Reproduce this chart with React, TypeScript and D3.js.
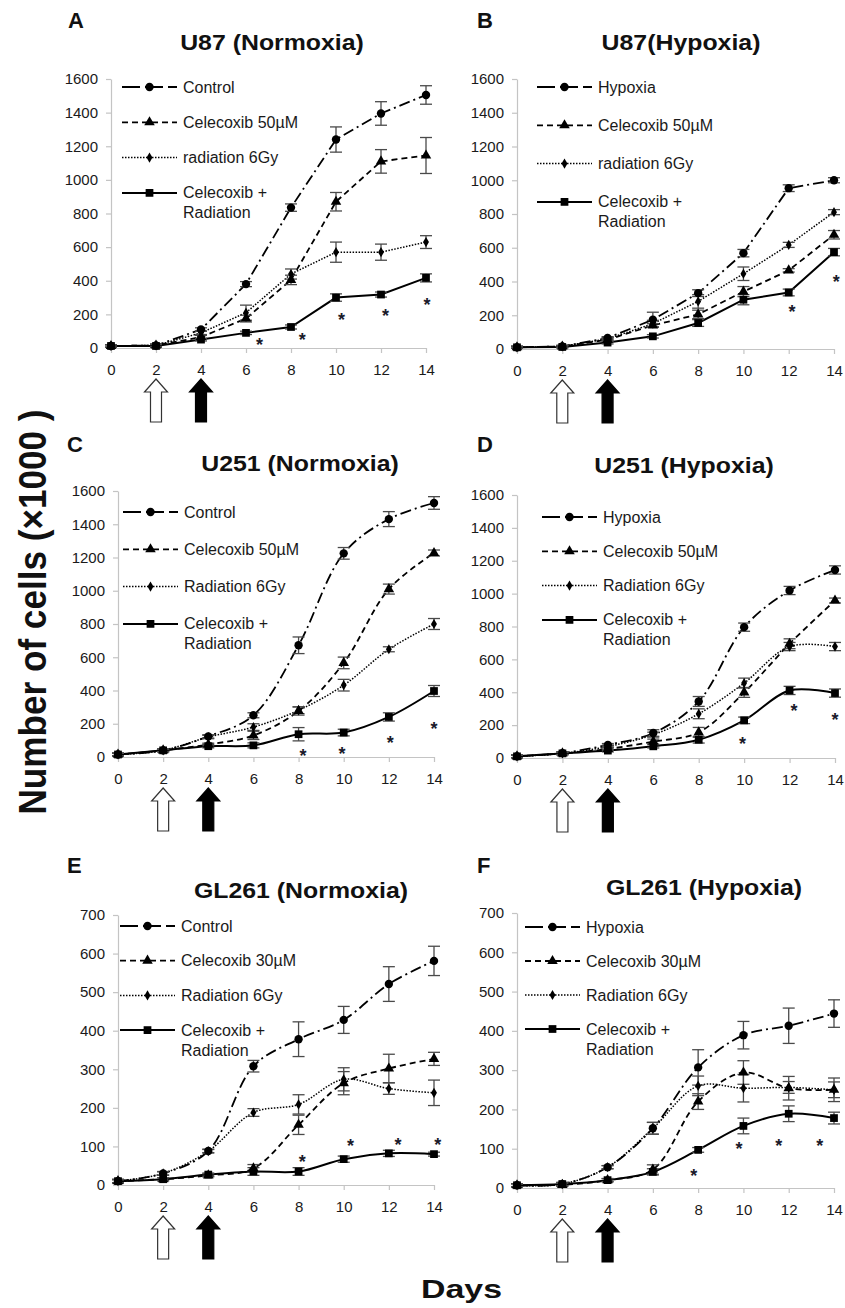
import * as d3 from 'd3';
import { useRef, useEffect } from 'react';

const FONT = '"Liberation Sans", Arial, sans-serif';

const days = [0, 2, 4, 6, 8, 10, 12, 14];

// A: U87 normoxia
const u87NControl = [12, 15, 110, 380, 835, 1240, 1395, 1505];
const u87NControlErr = [8, 8, 10, 15, 22, 75, 70, 55];
const u87NCele = [12, 15, 65, 175, 405, 870, 1110, 1145];
const u87NCeleErr = [8, 8, 10, 20, 28, 55, 70, 107];
const u87NRad = [12, 15, 90, 210, 440, 570, 570, 630];
const u87NRadErr = [8, 8, 10, 45, 30, 60, 48, 38];
const u87NCombo = [12, 12, 50, 90, 125, 300, 318, 417];
const u87NComboErr = [8, 8, 8, 10, 12, 22, 15, 24];
const u87NStars = [[6.6, 40], [8.5, 73], [10.25, 192], [12.2, 216], [14.05, 280]];

// B: U87 hypoxia
const u87HHyp = [10, 15, 65, 174, 331, 568, 953, 1000];
const u87HHypErr = [6, 6, 8, 44, 20, 22, 20, 15];
const u87HCele = [10, 15, 55, 140, 205, 340, 466, 677];
const u87HCeleErr = [6, 6, 8, 10, 25, 30, 10, 25];
const u87HRad = [10, 15, 60, 150, 282, 446, 617, 811];
const u87HRadErr = [6, 6, 8, 20, 40, 40, 15, 15];
const u87HCombo = [10, 12, 38, 75, 154, 292, 335, 574];
const u87HComboErr = [6, 6, 8, 10, 20, 30, 20, 22];
const u87HStars = [[12.15, 243], [14.1, 420]];

// C: U251 normoxia
const u251NControl = [15, 40, 124, 251, 672, 1225, 1431, 1528];
const u251NControlErr = [8, 8, 10, 15, 50, 35, 45, 38];
const u251NCele = [15, 40, 75, 130, 277, 566, 1010, 1227];
const u251NCeleErr = [8, 8, 8, 25, 25, 35, 30, 18];
const u251NRad = [15, 40, 120, 180, 281, 432, 648, 800];
const u251NRadErr = [8, 8, 10, 20, 20, 35, 15, 33];
const u251NCombo = [15, 40, 65, 70, 137, 147, 241, 397];
const u251NComboErr = [8, 8, 10, 15, 40, 20, 25, 33];
const u251NStars = [[8.2, 30], [9.92, 44], [12.06, 108], [14, 192]];

// D: U251 hypoxia
const u251HHyp = [10, 30, 80, 152, 344, 796, 1019, 1144];
const u251HHypErr = [8, 8, 8, 20, 30, 25, 25, 25];
const u251HCele = [10, 28, 55, 100, 156, 399, 695, 958];
const u251HCeleErr = [8, 8, 8, 15, 30, 30, 30, 15];
const u251HRad = [10, 28, 70, 142, 269, 456, 678, 678];
const u251HRadErr = [8, 8, 8, 15, 30, 30, 25, 25];
const u251HCombo = [10, 28, 45, 71, 111, 229, 411, 395];
const u251HComboErr = [8, 8, 8, 10, 20, 20, 25, 25];
const u251HStars = [[9.93, 107], [12.2, 310], [14.0, 257]];

// E: GL261 normoxia
const gl261NControl = [10, 30, 88, 308, 378, 428, 521, 581];
const gl261NControlErr = [5, 5, 5, 15, 45, 35, 45, 38];
const gl261NCele = [10, 15, 25, 43, 156, 264, 302, 327];
const gl261NCeleErr = [4, 4, 4, 10, 25, 30, 37, 17];
const gl261NRad = [10, 30, 88, 188, 209, 274, 250, 239];
const gl261NRadErr = [4, 4, 4, 10, 25, 30, 15, 33];
const gl261NCombo = [10, 15, 27, 35, 35, 67, 82, 80];
const gl261NComboErr = [4, 4, 4, 10, 10, 8, 8, 5];
const gl261NStars = [[8.16, 69], [10.3, 112], [12.4, 114], [14.17, 114]];

// F: GL261 hypoxia
const gl261HHyp = [7, 10, 53, 152, 307, 389, 413, 444];
const gl261HHypErr = [4, 4, 4, 15, 45, 35, 45, 35];
const gl261HCele = [7, 8, 20, 47, 220, 294, 254, 250];
const gl261HCeleErr = [4, 4, 4, 12, 20, 30, 30, 30];
const gl261HRad = [7, 10, 53, 152, 260, 254, 256, 250];
const gl261HRadErr = [4, 4, 4, 15, 25, 35, 15, 20];
const gl261HCombo = [7, 10, 20, 41, 97, 158, 189, 178];
const gl261HComboErr = [4, 4, 4, 8, 6, 20, 20, 15];
const gl261HStars = [[7.81, 41], [9.8, 110], [11.56, 118], [13.37, 118]];

const lineStyles = {
  control: { dash: '11,4,2,4', width: 1.8, symbol: d3.symbolCircle, size: 55 },
  cele: { dash: '6,4', width: 1.8, symbol: d3.symbolTriangle, size: 48 },
  rad: { dash: '1.5,1.5', width: 1.5, symbol: d3.symbolDiamond, size: 30 },
  combo: { dash: null, width: 2, symbol: d3.symbolSquare, size: 60 },
};

const mk = (kind, label, values, err) => ({ kind, label, values, err });

const panels = [
  {
    letter: 'A', title: 'U87 (Normoxia)', titleX: 272, titleY: 50, letterX: 68, letterY: 28,
    left: 111, right: 426, top: 79, bottom: 348, yMax: 1600, yStep: 200, smooth: false,
    legendX: 122, legendY: 87, legendGap: 35.3, stars: u87NStars,
    series: [
      mk('control', ['Control'], u87NControl, u87NControlErr),
      mk('cele', ['Celecoxib 50µM'], u87NCele, u87NCeleErr),
      mk('rad', ['radiation 6Gy'], u87NRad, u87NRadErr),
      mk('combo', ['Celecoxib +', 'Radiation'], u87NCombo, u87NComboErr),
    ],
  },
  {
    letter: 'B', title: 'U87(Hypoxia)', titleX: 681, titleY: 50, letterX: 477, letterY: 28,
    left: 517, right: 834, top: 79, bottom: 349, yMax: 1600, yStep: 200, smooth: false,
    legendX: 537, legendY: 87, legendGap: 38.3, stars: u87HStars,
    series: [
      mk('control', ['Hypoxia'], u87HHyp, u87HHypErr),
      mk('cele', ['Celecoxib 50µM'], u87HCele, u87HCeleErr),
      mk('rad', ['radiation 6Gy'], u87HRad, u87HRadErr),
      mk('combo', ['Celecoxib +', 'Radiation'], u87HCombo, u87HComboErr),
    ],
  },
  {
    letter: 'C', title: 'U251 (Normoxia)', titleX: 300, titleY: 471, letterX: 67, letterY: 452,
    left: 118, right: 434, top: 491, bottom: 757, yMax: 1600, yStep: 200, smooth: true,
    legendX: 123, legendY: 512, legendGap: 37.3, stars: u251NStars,
    series: [
      mk('control', ['Control'], u251NControl, u251NControlErr),
      mk('cele', ['Celecoxib 50µM'], u251NCele, u251NCeleErr),
      mk('rad', ['Radiation 6Gy'], u251NRad, u251NRadErr),
      mk('combo', ['Celecoxib +', 'Radiation'], u251NCombo, u251NComboErr),
    ],
  },
  {
    letter: 'D', title: 'U251 (Hypoxia)', titleX: 684, titleY: 473, letterX: 477, letterY: 452,
    left: 517, right: 835, top: 495, bottom: 758, yMax: 1600, yStep: 200, smooth: true,
    legendX: 542, legendY: 517, legendGap: 34.3, stars: u251HStars,
    series: [
      mk('control', ['Hypoxia'], u251HHyp, u251HHypErr),
      mk('cele', ['Celecoxib 50µM'], u251HCele, u251HCeleErr),
      mk('rad', ['Radiation 6Gy'], u251HRad, u251HRadErr),
      mk('combo', ['Celecoxib +', 'Radiation'], u251HCombo, u251HComboErr),
    ],
  },
  {
    letter: 'E', title: 'GL261 (Normoxia)', titleX: 301, titleY: 898, letterX: 67, letterY: 873,
    left: 118, right: 434, top: 915, bottom: 1185, yMax: 700, yStep: 100, smooth: true,
    legendX: 120, legendY: 926, legendGap: 34.7, stars: gl261NStars,
    series: [
      mk('control', ['Control'], gl261NControl, gl261NControlErr),
      mk('cele', ['Celecoxib 30µM'], gl261NCele, gl261NCeleErr),
      mk('rad', ['Radiation 6Gy'], gl261NRad, gl261NRadErr),
      mk('combo', ['Celecoxib +', 'Radiation'], gl261NCombo, gl261NComboErr),
    ],
  },
  {
    letter: 'F', title: 'GL261 (Hypoxia)', titleX: 704, titleY: 895, letterX: 477, letterY: 873,
    left: 517, right: 834, top: 913, bottom: 1188, yMax: 700, yStep: 100, smooth: true,
    legendX: 525, legendY: 927, legendGap: 34, stars: gl261HStars,
    series: [
      mk('control', ['Hypoxia'], gl261HHyp, gl261HHypErr),
      mk('cele', ['Celecoxib 30µM'], gl261HCele, gl261HCeleErr),
      mk('rad', ['Radiation 6Gy'], gl261HRad, gl261HRadErr),
      mk('combo', ['Celecoxib +', 'Radiation'], gl261HCombo, gl261HComboErr),
    ],
  },
];

const drawPanel = (svg, p) => {
  const g = svg.append('g');
  const x = d3.scaleLinear().domain([0, 14]).range([p.left, p.right]);
  const y = d3.scaleLinear().domain([0, p.yMax]).range([p.bottom, p.top]);

  g.append('text')
    .attr('x', p.letterX).attr('y', p.letterY)
    .style('font', `bold 22px ${FONT}`).attr('fill', '#111')
    .text(p.letter);

  g.append('text')
    .attr('transform', `translate(${p.titleX},${p.titleY}) scale(1.13,1)`)
    .attr('text-anchor', 'middle')
    .style('font', `bold 22px ${FONT}`).attr('fill', '#111')
    .text(p.title);

  // axes
  const yAxis = g.append('g')
    .attr('transform', `translate(${p.left},0)`)
    .call(d3.axisLeft(y)
      .tickValues(d3.range(0, p.yMax + 1, p.yStep))
      .tickFormat(d3.format('d'))
      .tickSize(5).tickSizeOuter(0).tickPadding(8));
  const xAxis = g.append('g')
    .attr('transform', `translate(0,${p.bottom})`)
    .call(d3.axisBottom(x).tickValues(days).tickSize(5).tickSizeOuter(0).tickPadding(11));
  [yAxis, xAxis].forEach(ax => {
    ax.select('.domain').attr('stroke', '#c4c4c4').attr('stroke-width', 1.2);
    ax.selectAll('.tick line').attr('stroke', '#c4c4c4').attr('stroke-width', 1.2);
    ax.selectAll('.tick text').style('font', `15px ${FONT}`).attr('fill', '#1a1a1a');
  });

  const curve = p.smooth ? d3.curveCatmullRom.alpha(0.5) : d3.curveLinear;
  const line = d3.line().x((d, i) => x(days[i])).y(d => y(d)).curve(curve);

  // lines
  p.series.forEach(s => {
    const st = lineStyles[s.kind];
    g.append('path')
      .attr('d', line(s.values))
      .attr('fill', 'none')
      .attr('stroke', '#000')
      .attr('stroke-width', st.width)
      .attr('stroke-dasharray', st.dash);
  });

  // error bars
  p.series.forEach(s => {
    s.values.forEach((v, i) => {
      const cx = x(days[i]);
      const y0 = y(v - s.err[i]);
      const y1 = y(v + s.err[i]);
      const eb = g.append('g').attr('stroke', '#4a4a4a').attr('stroke-width', 1.3);
      eb.append('line').attr('x1', cx).attr('x2', cx).attr('y1', y0).attr('y2', y1);
      eb.append('line').attr('x1', cx - 6).attr('x2', cx + 6).attr('y1', y0).attr('y2', y0);
      eb.append('line').attr('x1', cx - 6).attr('x2', cx + 6).attr('y1', y1).attr('y2', y1);
    });
  });

  // markers
  p.series.forEach(s => {
    const st = lineStyles[s.kind];
    const sym = d3.symbol().type(st.symbol).size(st.size);
    g.selectAll(null)
      .data(s.values)
      .enter().append('path')
      .attr('d', sym())
      .attr('transform', (d, i) => `translate(${x(days[i])},${y(d)})`)
      .attr('fill', '#000');
  });

  // significance stars
  g.selectAll(null)
    .data(p.stars)
    .enter().append('text')
    .attr('x', d => x(d[0]))
    .attr('y', d => y(d[1]) + 10)
    .attr('text-anchor', 'middle')
    .style('font', `bold 18px ${FONT}`)
    .attr('fill', '#1a1a2a')
    .text('*');

  // legend
  p.series.forEach((s, k) => {
    const st = lineStyles[s.kind];
    const ly = p.legendY + k * p.legendGap;
    const lg = g.append('g');
    lg.append('line')
      .attr('x1', p.legendX).attr('x2', p.legendX + 55)
      .attr('y1', ly).attr('y2', ly)
      .attr('stroke', '#000').attr('stroke-width', st.width)
      .attr('stroke-dasharray', s.kind === 'control' ? '18,5' : st.dash);
    lg.append('path')
      .attr('d', d3.symbol().type(st.symbol).size(st.size)())
      .attr('transform', `translate(${p.legendX + 27.5},${ly})`)
      .attr('fill', '#000');
    s.label.forEach((t, j) => {
      lg.append('text')
        .attr('x', p.legendX + 61)
        .attr('y', ly + 5.5 + j * 20)
        .style('font', `16px ${FONT}`)
        .attr('fill', '#1a1a1a')
        .text(t);
    });
  });

  // treatment arrows (open = day 2, filled = day 4)
  const arrow = (cx, ty) => {
    const p2 = d3.path();
    p2.moveTo(cx, ty);
    p2.lineTo(cx + 11.5, ty + 13);
    p2.lineTo(cx + 5.5, ty + 13);
    p2.lineTo(cx + 5.5, ty + 43);
    p2.lineTo(cx - 5.5, ty + 43);
    p2.lineTo(cx - 5.5, ty + 13);
    p2.lineTo(cx - 11.5, ty + 13);
    p2.closePath();
    return p2.toString();
  };
  g.append('path').attr('d', arrow(x(2), p.bottom + 31))
    .attr('fill', '#fff').attr('stroke', '#333').attr('stroke-width', 1.2);
  g.append('path').attr('d', arrow(x(4), p.bottom + 31))
    .attr('fill', '#000').attr('stroke', '#000').attr('stroke-width', 1.2);
};

const App = () => {
  const svgRef = useRef(null);

  useEffect(() => {
    const svg = d3.select(svgRef.current);
    svg.selectAll('*').remove();

    panels.forEach(p => drawPanel(svg, p));

    svg.append('text')
      .attr('transform', 'translate(46,612) rotate(-90) scale(1,1.65)')
      .attr('text-anchor', 'middle')
      .attr('textLength', 405)
      .attr('lengthAdjust', 'spacingAndGlyphs')
      .style('font', `bold 23px ${FONT}`)
      .attr('fill', '#111')
      .text('Number  of  cells  (×1000 )');

    svg.append('text')
      .attr('x', 421).attr('y', 1298)
      .attr('textLength', 81)
      .attr('lengthAdjust', 'spacingAndGlyphs')
      .style('font', `bold 25px ${FONT}`)
      .attr('fill', '#111')
      .text('Days');
  }, []);

  return (
    <svg ref={svgRef} width={845} height={1308}
      style={{ position: 'absolute', left: 0, top: 0, background: '#fff' }} />
  );
};

export default App;
